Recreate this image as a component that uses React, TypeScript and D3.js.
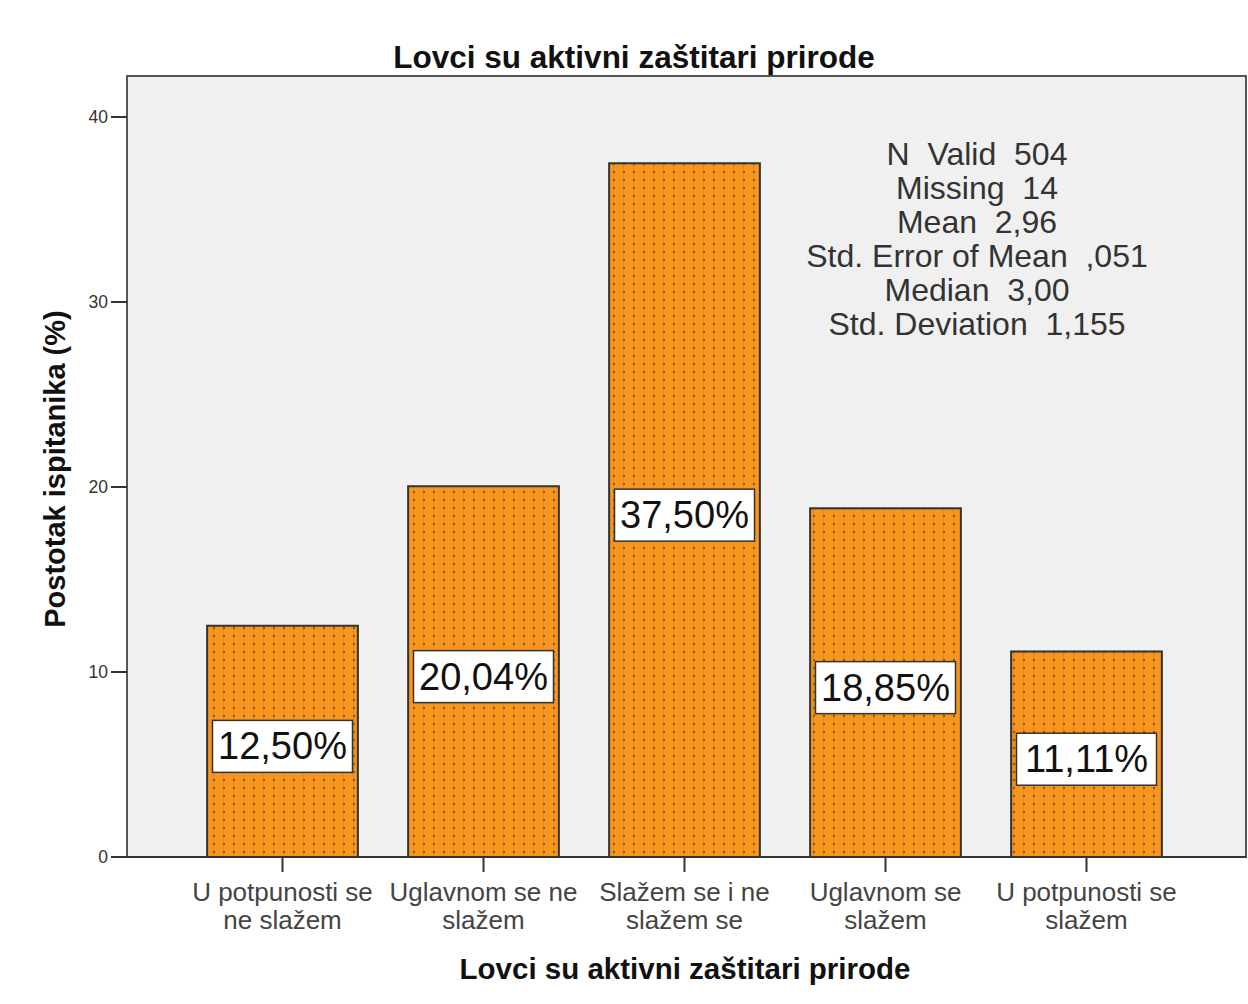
import React from "react";
import * as d3 from "d3";

const categories = [
  ["U potpunosti se", "ne slažem"],
  ["Uglavnom se ne", "slažem"],
  ["Slažem se i ne", "slažem se"],
  ["Uglavnom se", "slažem"],
  ["U potpunosti se", "slažem"],
];
const values = [12.5, 20.04, 37.5, 18.85, 11.11];
const valueLabels = ["12,50%", "20,04%", "37,50%", "18,85%", "11,11%"];
const yTicks = [0, 10, 20, 30, 40];
const statsLines = [
  "N  Valid  504",
  "Missing  14",
  "Mean  2,96",
  "Std. Error of Mean  ,051",
  "Median  3,00",
  "Std. Deviation  1,155",
];
const title = "Lovci su aktivni zaštitari prirode";
const xTitle = "Lovci su aktivni zaštitari prirode";
const yTitle = "Postotak ispitanika (%)";

const W = 1248;
const H = 1004;
const plot = { left: 127, top: 76, right: 1246, bottom: 857 };
const FONT = "'Liberation Sans', Arial, sans-serif";

export default function App() {
  const x = d3
    .scaleBand<number>()
    .domain(d3.range(categories.length))
    .range([182, 1187])
    .paddingInner(0.25)
    .paddingOuter(0.125);
  const y = d3.scaleLinear().domain([0, 40]).range([857, 117]);

  return (
    <svg
      width={W}
      height={H}
      style={{ position: "absolute", left: 0, top: 0, background: "#fff" }}
      fontFamily={FONT}
    >
      <defs>
        <pattern id="dots" width={10} height={8} patternUnits="userSpaceOnUse" x={209} y={0}>
          <rect width={10} height={8} fill="#f7951e" />
          <rect x={4} y={0} width={1} height={8} fill="#e08a1c" />
          <rect x={4} y={3} width={2} height={2} fill="#6e4a10" opacity={0.8} />
        </pattern>
      </defs>
      <rect
        x={plot.left}
        y={plot.top}
        width={plot.right - plot.left}
        height={plot.bottom - plot.top}
        fill="#f0f0f0"
        stroke="#555"
        strokeWidth={2}
      />
      <text x={634} y={68} textAnchor="middle" fontSize={31.5} fontWeight="bold" fill="#111">
        {title}
      </text>
      {values.map((v, i) => {
        const bx = x(i)!;
        const bw = x.bandwidth();
        return (
          <rect
            key={i}
            x={bx}
            y={y(v)}
            width={bw}
            height={y(0) - y(v)}
            fill="url(#dots)"
            stroke="#333"
            strokeWidth={2}
          />
        );
      })}
      {/* axes */}
      <line x1={plot.left} x2={plot.left} y1={plot.top} y2={plot.bottom} stroke="#555" strokeWidth={2} />
      <line x1={plot.left} x2={plot.right} y1={plot.bottom} y2={plot.bottom} stroke="#333" strokeWidth={2} />
      {yTicks.map((t) => (
        <g key={t}>
          <line x1={111} x2={plot.left} y1={y(t)} y2={y(t)} stroke="#333" strokeWidth={2} />
          <text x={108} y={y(t) + 6} textAnchor="end" fontSize={17.5} fill="#333">
            {t}
          </text>
        </g>
      ))}
      {categories.map((c, i) => {
        const cx = x(i)! + x.bandwidth() / 2;
        return (
          <g key={i}>
            <line x1={cx} x2={cx} y1={plot.bottom} y2={plot.bottom + 15} stroke="#333" strokeWidth={2} />
            {c.map((l, j) => (
              <text key={j} x={cx} y={901 + j * 28} textAnchor="middle" fontSize={26} fill="#444">
                {l}
              </text>
            ))}
          </g>
        );
      })}
      {values.map((v, i) => {
        const cx = x(i)! + x.bandwidth() / 2;
        const cy = (y(v) + y(0)) / 2 + 5;
        const bw = 140;
        const bh = 52;
        return (
          <g key={i}>
            <rect x={cx - bw / 2} y={cy - bh / 2} width={bw} height={bh} fill="#fff" stroke="#333" strokeWidth={1.5} />
            <text x={cx} y={cy + 13} textAnchor="middle" fontSize={38} fill="#111">
              {valueLabels[i]}
            </text>
          </g>
        );
      })}
      {statsLines.map((l, i) => (
        <text
          key={i}
          x={977}
          y={165 + i * 34}
          textAnchor="middle"
          fontSize={32}
          fill="#333"
          style={{ whiteSpace: "pre" }}
        >
          {l}
        </text>
      ))}
      <text x={685} y={979} textAnchor="middle" fontSize={29.5} fontWeight="bold" fill="#111">
        {xTitle}
      </text>
      <text
        transform={`translate(65, 469) rotate(-90)`}
        textAnchor="middle"
        fontSize={29}
        fontWeight="bold"
        fill="#111"
      >
        {yTitle}
      </text>
    </svg>
  );
}
